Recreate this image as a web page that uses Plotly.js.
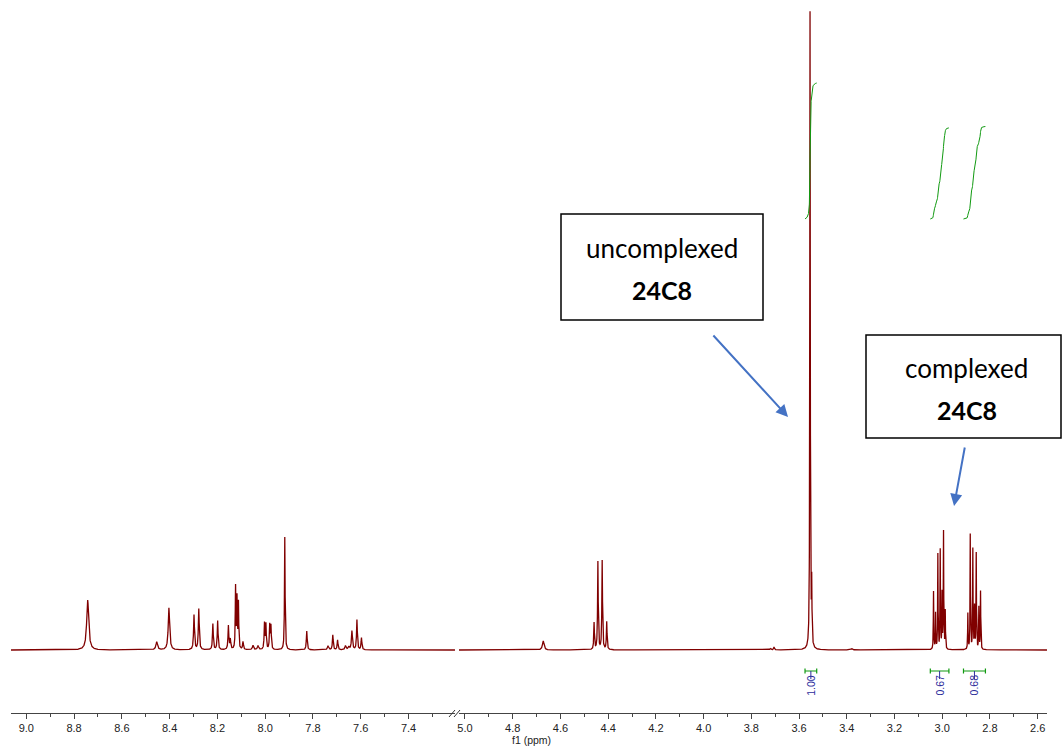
<!DOCTYPE html>
<html><head><meta charset="utf-8">
<script src="https://cdn.plot.ly/plotly-3.0.1.min.js"></script>
<style>html,body{margin:0;padding:0;background:#fff;overflow:hidden}</style>
</head><body><div id="chart" style="width:1062px;height:747px"></div>
<script>
// ---- peak list (ppm, apparent height, half-width in ppm)
const peakPpm = [
  8.743, 8.454, 8.403, 8.298, 8.278, 8.219, 8.199, 8.154, 8.146, 8.124, 8.118, 8.112, 8.093,
  8.051, 8.030, 8.003, 7.997, 7.981, 7.976, 7.918, 7.826, 7.737, 7.717, 7.697, 7.664, 7.650,
  7.637, 7.616, 7.597,
  4.672, 4.459, 4.443, 4.425, 4.406, 3.720, 3.705, 3.554, 3.547, 3.380,
  3.0365, 3.028, 3.0184, 3.0084, 3.0008, 2.9946, 2.9874,
  2.8927, 2.8826, 2.8718, 2.8646, 2.8575, 2.8466, 2.8395
];
const peakHeight = [
  50, 8, 42, 35, 41, 26, 29, 24, 10, 62, 50, 46, 8,
  4.5, 4, 26, 25, 24, 23, 113, 19, 4, 15, 10, 4, 3,
  19, 30, 12,
  9, 27, 88, 89, 28, 1.5, 3, 637, 60, 1.5,
  58, 36, 95, 99, 55, 117, 38,
  36, 115, 100, 42, 96, 42, 58
];
const peakWidth = [
  0.005, 0.004, 0.0035, 0.0022, 0.0022, 0.002, 0.002, 0.002, 0.002, 0.0015, 0.0015, 0.0015, 0.002,
  0.003, 0.003, 0.0018, 0.0018, 0.0018, 0.0018, 0.0015, 0.002, 0.003, 0.002, 0.002, 0.003, 0.003,
  0.0025, 0.002, 0.002,
  0.004, 0.0016, 0.0016, 0.0016, 0.0016, 0.003, 0.002, 0.0012, 0.0012, 0.004,
  0.001, 0.001, 0.001, 0.001, 0.001, 0.001, 0.001,
  0.001, 0.001, 0.001, 0.001, 0.001, 0.001, 0.001
];
// ---- integrals
const integralFrom = [3.575, 3.050, 2.911];
const integralTo = [3.526, 2.972, 2.819];
const integralValues = ["1.00", "0.67", "0.68"];
// ---- axis ticks
const leftTicks = [9.0, 8.8, 8.6, 8.4, 8.2, 8.0, 7.8, 7.6, 7.4];
const rightTicks = [5.0, 4.8, 4.6, 4.4, 4.2, 4.0, 3.8, 3.6, 3.4, 3.2, 3.0, 2.8, 2.6];
const leftRange = [9.064, 7.2055];
const rightRange = [5.025, 2.561];

function intensity(p) {
  let s = 0;
  for (let i = 0; i < peakPpm.length; i++) {
    const d = p - peakPpm[i], g = peakWidth[i];
    s += peakHeight[i] * g * g / (d * d + g * g);
  }
  return s;
}
function sample(a, b, step) {
  const pts = [];
  for (let p = a; p >= b; p -= step) pts.push(p);
  peakPpm.forEach(p => { if (p <= a && p >= b) pts.push(p); });
  pts.sort((u, v) => v - u);
  return {xs: pts, ys: pts.map(intensity)};
}
const L = sample(leftRange[0], leftRange[1], 0.0004);
const R = sample(rightRange[0], rightRange[1], 0.0003);

const red = '#800000', green = '#119a11', blue = '#2d2d9c';
const traces = [
  {x: L.xs, y: L.ys, xaxis: 'x', yaxis: 'y', type: 'scatter', mode: 'lines', line: {color: red, width: 1.3}, hoverinfo: 'skip'},
  {x: R.xs, y: R.ys, xaxis: 'x2', yaxis: 'y', type: 'scatter', mode: 'lines', line: {color: red, width: 1.3}, hoverinfo: 'skip'}
];
const integralBase = 431, integralScale = 136;
const annotations = [];
for (let k = 0; k < integralFrom.length; k++) {
  const a = integralFrom[k], b = integralTo[k];
  const xs = [], cum = [];
  let s = 0;
  for (let p = a; p >= b; p -= 0.0003) { s += intensity(p); xs.push(p); cum.push(s); }
  const val = parseFloat(integralValues[k]);
  const ys = cum.map(c => integralBase + val * integralScale * c / s);
  traces.push({x: xs, y: ys, xaxis: 'x2', yaxis: 'y', type: 'scatter', mode: 'lines', line: {color: green, width: 1}, hoverinfo: 'skip'});
  // bracket
  traces.push({x: [a, a, a, b, b, b], y: [-23.5, -18.5, -21, -21, -18.5, -23.5], xaxis: 'x2', yaxis: 'y', type: 'scatter', mode: 'lines', line: {color: green, width: 1.2}, hoverinfo: 'skip'});
  const c = (a + b) / 2;
  traces.push({x: [c, c], y: [-21, -29], xaxis: 'x2', yaxis: 'y', type: 'scatter', mode: 'lines', line: {color: blue, width: 1}, hoverinfo: 'skip'});
  annotations.push({x: c, y: -35, xref: 'x2', yref: 'y', xanchor: 'center', yanchor: 'middle', text: integralValues[k], textangle: -90, showarrow: false,
    font: {family: 'Liberation Sans, Arial, sans-serif', size: 10.5, color: blue}});
}

const fontBox = 'Lato, Carlito, sans-serif';
function px2paperX(px) { return (px - 11) / 1036; }
function px2paperY(py) { return (713 - py) / 713; }
function px2ppm(px) { return 5.0 - (px - 465) / 238.6; }
function py2v(py) { return 650 - py; }

annotations.push(
  {x: px2paperX(662), y: py2v(248), xref: 'paper', yref: 'y', xanchor: 'center', yanchor: 'middle', text: 'uncomplexed', showarrow: false, font: {family: fontBox, size: 26, color: '#000'}},
  {x: px2paperX(662), y: py2v(290), xref: 'paper', yref: 'y', xanchor: 'center', yanchor: 'middle', text: '<b>24C8</b>', showarrow: false, font: {family: fontBox, size: 25, color: '#000'}},
  {x: px2paperX(966.5), y: py2v(368), xref: 'paper', yref: 'y', xanchor: 'center', yanchor: 'middle', text: 'complexed', showarrow: false, font: {family: fontBox, size: 26, color: '#000'}},
  {x: px2paperX(967), y: py2v(410), xref: 'paper', yref: 'y', xanchor: 'center', yanchor: 'middle', text: '<b>24C8</b>', showarrow: false, font: {family: fontBox, size: 25, color: '#000'}},
  {x: px2ppm(788), y: py2v(417), xref: 'x2', yref: 'y', ax: px2ppm(712), ay: py2v(334), axref: 'x2', ayref: 'y', text: '',
    showarrow: true, arrowhead: 2, arrowsize: 1.2, arrowwidth: 2, arrowcolor: '#4472C4'},
  {x: px2ppm(954), y: py2v(506), xref: 'x2', yref: 'y', ax: px2ppm(965), ay: py2v(446), axref: 'x2', ayref: 'y', text: '',
    showarrow: true, arrowhead: 2, arrowsize: 1.2, arrowwidth: 2, arrowcolor: '#4472C4'},
  {x: px2paperX(531), y: px2paperY(740), xref: 'paper', yref: 'paper', xanchor: 'center', yanchor: 'middle', text: 'f1 (ppm)', showarrow: false,
    font: {family: 'Liberation Sans, Arial, sans-serif', size: 10.5, color: '#222'}}
);

const shapes = [
  {type: 'rect', xref: 'paper', yref: 'y', x0: px2paperX(561), x1: px2paperX(763), y0: py2v(214), y1: py2v(320), line: {color: '#000', width: 1.5}, fillcolor: '#fff', layer: 'above'},
  {type: 'rect', xref: 'paper', yref: 'y', x0: px2paperX(866), x1: px2paperX(1061), y0: py2v(335), y1: py2v(438), line: {color: '#000', width: 1.5}, fillcolor: '#fff', layer: 'above'},
  {type: 'line', xref: 'paper', yref: 'paper', x0: px2paperX(449), x1: px2paperX(455), y0: px2paperY(717), y1: px2paperY(710), line: {color: '#333', width: 1}},
  {type: 'line', xref: 'paper', yref: 'paper', x0: px2paperX(454), x1: px2paperX(460), y0: px2paperY(717), y1: px2paperY(710), line: {color: '#333', width: 1}}
];

const axisCommon = {
  showgrid: false, zeroline: false, showline: true, linecolor: '#444', linewidth: 1,
  ticks: 'outside', ticklen: 5, tickcolor: '#444', tickwidth: 1,
  tickformat: '.1f', tickmode: 'array',
  tickfont: {family: 'Liberation Sans, Arial, sans-serif', size: 11, color: '#222'},
  minor: {dtick: 0.1, ticks: 'outside', ticklen: 3, tickcolor: '#444', tick0: 0},
  fixedrange: true
};
const layout = {
  width: 1062, height: 747,
  margin: {l: 11, r: 15, t: 0, b: 34},
  paper_bgcolor: '#fff', plot_bgcolor: '#fff',
  showlegend: false,
  xaxis: Object.assign({}, axisCommon, {domain: [0, (455 - 11) / 1036], range: leftRange, tickvals: leftTicks, anchor: 'y'}),
  xaxis2: Object.assign({}, axisCommon, {domain: [(459 - 11) / 1036, 1], range: rightRange, tickvals: rightTicks, anchor: 'y'}),
  yaxis: {range: [-63, 650], visible: false, fixedrange: true},
  annotations: annotations,
  shapes: shapes
};
Plotly.newPlot('chart', traces, layout, {staticPlot: true, displayModeBar: false});
</script>
</body></html>
